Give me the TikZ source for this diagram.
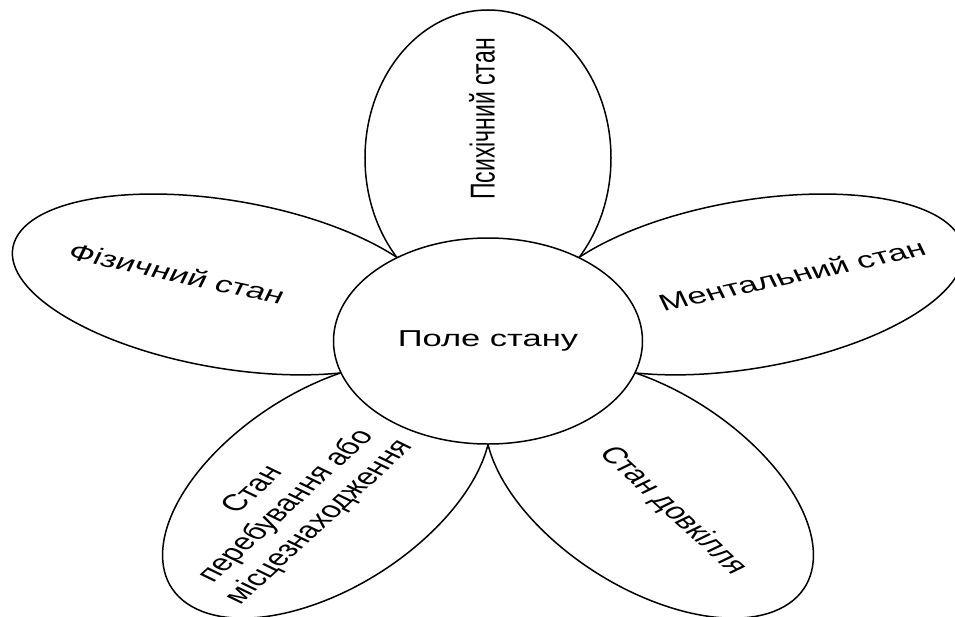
\documentclass[tikz,border=0pt]{standalone}
\usepackage{fontspec}
\setmainfont{Liberation Sans}
\usetikzlibrary{shapes.geometric}
\tikzstyle{petal} = [ellipse,
minimum width=296pt,
minimum height=164pt,
inner sep=0pt,
draw=black,line width=1.5pt,fill=white,
transform shape]
\tikzstyle{core} = [circle, minimum size=206pt, inner sep=0pt, draw=black,line width=1.5pt,fill=white,font=\fontsize{23}{27.5}\selectfont,transform shape]
\tikzstyle{caption} = [align=center, inner sep=0pt, font=\fontsize{23}{27.5}\selectfont, transform shape]

\begin{document}
\begin{tikzpicture}[x=1pt, y=1pt, xscale=1.5]
\useasboundingbox (-325.33,-275) rectangle (311.33,341);

\node (psych) [petal, rotate=90] at (90:183) {};
\node (fiz) [petal, rotate=-18] at (162:183) {};
\node (misce) [petal, rotate=54] at (234:183) {};
\node (dovk) [petal, rotate=-54] at (306:183) {};
\node (ment) [petal, rotate=18] at (18:183) {};
\node (pole) [core] at (0,0) {Поле стану};

\node (psychtxt) [caption, rotate=90] at (-4,222) {Психічний стан};
\node (fiztxt) [caption, rotate=-18] at (162:218) {Фізичний стан};
\node (menttxt) [caption, rotate=18] at (18:213) {Ментальний стан};
\node (dovktxt) [caption, rotate=-54] at (306:210) {Стан довкілля};
\node (miscetxt) [caption, rotate=54] at (231:213) {Стан\\перебування або\\місцезнаходження};

\end{tikzpicture}
\end{document}
